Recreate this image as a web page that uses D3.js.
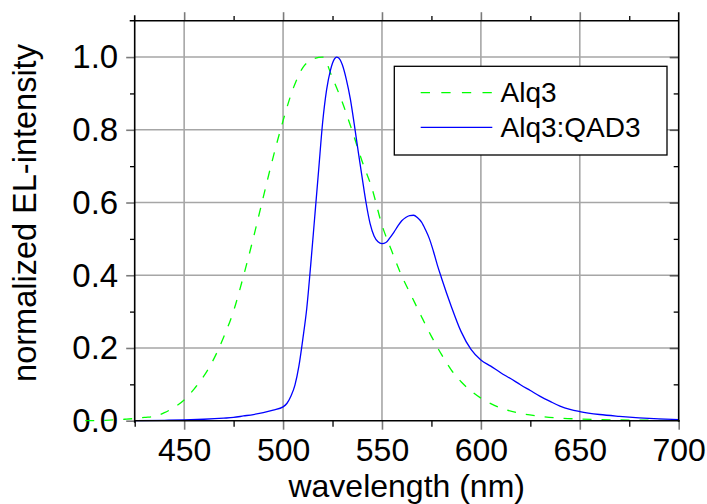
<!DOCTYPE html>
<html>
<head>
<meta charset="utf-8">
<script src="https://cdn.jsdelivr.net/npm/d3@7"></script>
<style>
  html, body { margin: 0; padding: 0; background: #fff; }
  svg { display: block; }
  text { font-family: "Liberation Sans", Arial, Helvetica, sans-serif; fill: #000; }
</style>
</head>
<body>
<svg id="chart" width="707" height="504"></svg>
<script>
// Electroluminescence spectra (normalized)
const alq3Wavelength = [400, 410, 420, 425, 430, 435, 440, 445, 450, 455, 460, 465, 470, 475, 480, 485, 490, 495, 500, 505, 510, 515, 520, 525, 530, 535, 540, 545, 550, 555, 560, 565, 570, 575, 580, 585, 590, 595, 600, 605, 610, 620, 630, 640, 650, 660, 670, 680, 690, 700];
const alq3Intensity  = [0.000, 0.001, 0.004, 0.006, 0.009, 0.012, 0.022, 0.037, 0.057, 0.087, 0.123, 0.170, 0.230, 0.302, 0.398, 0.503, 0.615, 0.725, 0.825, 0.912, 0.971, 0.994, 1.000, 0.942, 0.875, 0.796, 0.713, 0.638, 0.538, 0.466, 0.398, 0.342, 0.286, 0.232, 0.183, 0.140, 0.107, 0.082, 0.062, 0.047, 0.035, 0.020, 0.012, 0.007, 0.0047, 0.003, 0.002, 0.0015, 0.001, 0.0005];

const dopedWavelength = [425, 440, 450, 460, 470, 475, 480, 485, 490, 495, 500, 502, 504, 506, 508, 510, 512, 514, 516, 518, 520, 522, 524, 526, 527, 528, 530, 532, 534, 536, 538, 540, 542, 544, 546, 548, 550, 552, 554, 556, 558, 560, 562, 564, 566, 568, 570, 572, 574, 576, 578, 580, 585, 590, 595, 600, 605, 610, 615, 620, 625, 630, 635, 640, 645, 650, 660, 670, 680, 690, 700];
const dopedIntensity  = [0.000, 0.001, 0.002, 0.004, 0.007, 0.009, 0.013, 0.017, 0.022, 0.029, 0.038, 0.048, 0.068, 0.098, 0.150, 0.225, 0.310, 0.430, 0.560, 0.690, 0.820, 0.910, 0.965, 0.995, 1.000, 0.998, 0.978, 0.938, 0.885, 0.815, 0.740, 0.668, 0.598, 0.542, 0.508, 0.492, 0.487, 0.490, 0.503, 0.518, 0.535, 0.550, 0.559, 0.564, 0.565, 0.558, 0.546, 0.525, 0.500, 0.466, 0.428, 0.394, 0.315, 0.245, 0.196, 0.167, 0.150, 0.132, 0.116, 0.099, 0.083, 0.067, 0.053, 0.040, 0.031, 0.025, 0.017, 0.012, 0.008, 0.005, 0.003];

const seriesNames = ["Alq3", "Alq3:QAD3"];
const seriesColors = ["#00ff00", "#0000ff"];

const xMajorTicks = [450, 500, 550, 600, 650, 700];
const xMinorTicks = [425, 475, 525, 575, 625, 675];
const yMajorTicks = [0.0, 0.2, 0.4, 0.6, 0.8, 1.0];
const yMinorTicks = [0.1, 0.3, 0.5, 0.7, 0.9, 1.1];

const xTitle = "wavelength (nm)";
const yTitle = "normalized EL-intensity";

// Layout
const plot = { left: 134.7, right: 678.7, top: 20.7, bottom: 420.7 };
const gridColor = "#a6a6a6";

const svg = d3.select("#chart");

const x = d3.scaleLinear().domain([425, 700]).range([plot.left, plot.right]);
const y = d3.scaleLinear().domain([0, 1.1]).range([plot.bottom, plot.top]);

// Grid lines
const grid = svg.append("g");
grid.selectAll("line.gx").data(xMajorTicks.filter(d => d < 700)).join("line")
  .attr("x1", d => x(d)).attr("x2", d => x(d))
  .attr("y1", plot.top).attr("y2", plot.bottom)
  .attr("stroke", gridColor).attr("stroke-width", 1.6);
grid.selectAll("line.gy").data(yMajorTicks.filter(d => d > 0)).join("line")
  .attr("x1", plot.left).attr("x2", plot.right)
  .attr("y1", d => y(d)).attr("y2", d => y(d))
  .attr("stroke", gridColor).attr("stroke-width", 1.6);

// Axes: bottom and left with outward ticks, top outward, right inward
function styleAxis(g, majorColor, size) {
  g.select(".domain").remove();
  g.selectAll(".tick line").attr("stroke", majorColor).attr("stroke-width", 1.6);
  g.selectAll(".tick text").style("font-size", size);
}

const xAxisBottom = svg.append("g").attr("transform", `translate(0,${plot.bottom})`)
  .call(d3.axisBottom(x).tickValues(xMajorTicks).tickSize(9).tickPadding(8.6).tickFormat(d3.format("d")));
styleAxis(xAxisBottom, "#7a7a7a", "32px");

svg.append("g").attr("transform", `translate(0,${plot.bottom})`)
  .call(d3.axisBottom(x).tickValues(xMinorTicks).tickSize(6).tickFormat(""))
  .call(g => { g.select(".domain").remove(); g.selectAll(".tick line").attr("stroke", "#000").attr("stroke-width", 1.3); });

const yAxisLeft = svg.append("g").attr("transform", `translate(${plot.left},0)`)
  .call(d3.axisLeft(y).tickValues(yMajorTicks).tickSize(8.5).tickPadding(8).tickFormat(d3.format(".1f")));
styleAxis(yAxisLeft, "#7a7a7a", "33px");
yAxisLeft.selectAll(".tick text").attr("dy", "0.33em");

svg.append("g").attr("transform", `translate(${plot.left},0)`)
  .call(d3.axisLeft(y).tickValues(yMinorTicks.filter(d => d < 1.1)).tickSize(4.7).tickFormat(""))
  .call(g => { g.select(".domain").remove(); g.selectAll(".tick line").attr("stroke", "#000").attr("stroke-width", 1.3); });

svg.append("g").attr("transform", `translate(0,${plot.top})`)
  .call(d3.axisTop(x).tickValues(xMajorTicks.filter(d => d < 700)).tickSize(8.5).tickFormat(""))
  .call(g => { g.select(".domain").remove(); g.selectAll(".tick line").attr("stroke", "#7a7a7a").attr("stroke-width", 1.6); });
svg.append("g").attr("transform", `translate(0,${plot.top})`)
  .call(d3.axisTop(x).tickValues(xMinorTicks.filter(d => d > 425)).tickSize(4.7).tickFormat(""))
  .call(g => { g.select(".domain").remove(); g.selectAll(".tick line").attr("stroke", "#000").attr("stroke-width", 1.3); });

svg.append("g").attr("transform", `translate(${plot.right},0)`)
  .call(d3.axisRight(y).tickValues(yMajorTicks.filter(d => d > 0)).tickSize(-9).tickFormat(""))
  .call(g => { g.select(".domain").remove(); g.selectAll(".tick line").attr("stroke", "#555").attr("stroke-width", 1.6); });
svg.append("g").attr("transform", `translate(${plot.right},0)`)
  .call(d3.axisRight(y).tickValues(yMinorTicks.filter(d => d < 1.1)).tickSize(-5).tickFormat(""))
  .call(g => { g.select(".domain").remove(); g.selectAll(".tick line").attr("stroke", "#000").attr("stroke-width", 1.3); });

// Spectra
const line = d3.line().x(d => x(d[0])).y(d => y(d[1])).curve(d3.curveMonotoneX);

svg.append("path")
  .datum(d3.zip(alq3Wavelength, alq3Intensity))
  .attr("d", line)
  .attr("fill", "none")
  .attr("stroke", seriesColors[0])
  .attr("stroke-width", 1.3)
  .attr("stroke-dasharray", "9,10");

svg.append("path")
  .datum(d3.zip(dopedWavelength, dopedIntensity))
  .attr("d", line)
  .attr("fill", "none")
  .attr("stroke", seriesColors[1])
  .attr("stroke-width", 1.3);

// Frame
svg.append("line").attr("x1", plot.left).attr("x2", plot.left).attr("y1", plot.top - 5.5).attr("y2", plot.bottom + 2)
  .attr("stroke", "#000").attr("stroke-width", 1.6);
svg.append("line").attr("x1", plot.right).attr("x2", plot.right).attr("y1", plot.top - 8.5).attr("y2", plot.bottom + 1)
  .attr("stroke", "#000").attr("stroke-width", 1.6);
svg.append("line").attr("x1", plot.left - 5).attr("x2", plot.right).attr("y1", plot.top).attr("y2", plot.top)
  .attr("stroke", "#000").attr("stroke-width", 1.6);
svg.append("line").attr("x1", plot.left).attr("x2", plot.right + 1).attr("y1", plot.bottom).attr("y2", plot.bottom)
  .attr("stroke", "#000").attr("stroke-width", 1.6);

// Axis titles
svg.append("text")
  .attr("x", (plot.left + plot.right) / 2).attr("y", 497)
  .attr("text-anchor", "middle").style("font-size", "32px")
  .text(xTitle);

svg.append("text")
  .attr("transform", "translate(36,213) rotate(-90)")
  .attr("text-anchor", "middle").style("font-size", "32.5px")
  .text(yTitle);

// Legend
const legend = svg.append("g");
legend.append("rect")
  .attr("x", 394.3).attr("y", 66.3).attr("width", 272.7).attr("height", 88.7)
  .attr("fill", "#fff").attr("stroke", "#000").attr("stroke-width", 1.3);
const legendRows = [92.7, 127.3];
seriesNames.forEach((name, i) => {
  legend.append("line")
    .attr("x1", 420.7).attr("x2", 492.3)
    .attr("y1", legendRows[i]).attr("y2", legendRows[i])
    .attr("stroke", seriesColors[i]).attr("stroke-width", 1.3)
    .attr("stroke-dasharray", i === 0 ? "9.3,11.3" : null);
  legend.append("text")
    .attr("x", 500.5).attr("y", legendRows[i] + 9.5)
    .style("font-size", "28px")
    .text(name);
});
</script>
</body>
</html>
